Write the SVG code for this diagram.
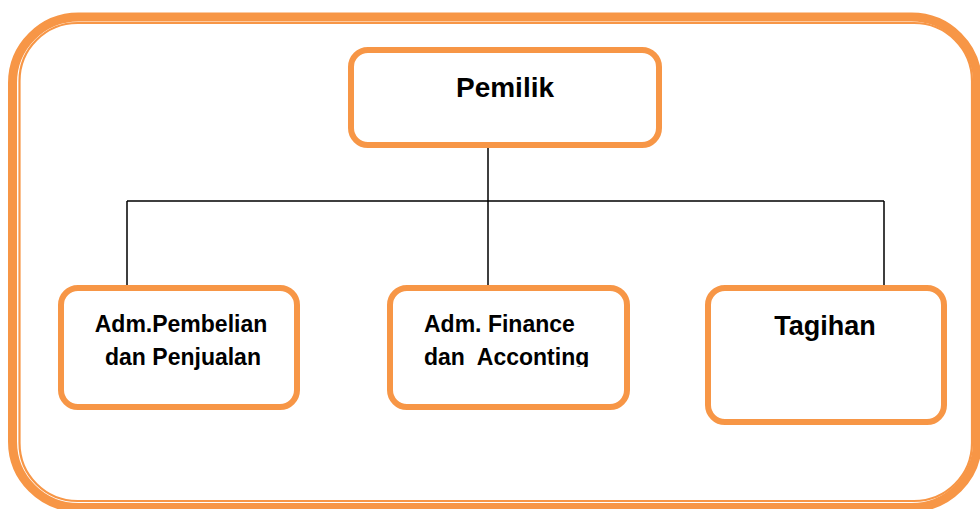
<svg xmlns="http://www.w3.org/2000/svg" width="980" height="509" viewBox="0 0 980 509">
<style>
.box{fill:#fff;stroke:#F79646;stroke-width:6}
.frame{fill:none;stroke:#F79646}
.lbl{font-family:"Liberation Sans",Arial,sans-serif;font-weight:bold;fill:#000}
.conn{stroke:#000;stroke-width:1.5;fill:none}
</style>
<defs>
<clipPath id="clipFin"><rect x="390" y="288" width="237" height="79"/></clipPath>
</defs>
<rect width="980" height="509" fill="#fff"/>
<g id="frame">
<rect class="frame" x="12.5" y="17" width="965" height="490.5" rx="66" ry="66" stroke-width="9"/>
<rect class="frame" x="19.5" y="23" width="952.5" height="478" rx="58" ry="58" stroke-width="2.2"/>
</g>
<g id="connectors">
<path class="conn" d="M488 148 V201 M127 201 H884 M127 201 V288 M488 201 V288 M884 201 V288"/>
</g>
<g id="pemilik">
<rect class="box" x="351" y="50" width="308" height="95" rx="17"/>
<text class="lbl" x="505" y="97" font-size="28" text-anchor="middle">Pemilik</text>
</g>
<g id="adm-pembelian">
<rect class="box" x="61" y="288" width="236" height="119" rx="17"/>
<text class="lbl" x="181" y="332" font-size="23" text-anchor="middle">Adm.Pembelian</text>
<text class="lbl" x="183" y="365" font-size="23" text-anchor="middle">dan Penjualan</text>
</g>
<g id="adm-finance">
<rect class="box" x="390" y="288" width="237" height="119" rx="17"/>
<g clip-path="url(#clipFin)">
<text class="lbl" x="424" y="332" font-size="23">Adm. Finance</text>
<text class="lbl" x="424" y="365" font-size="23" xml:space="preserve" style="white-space:pre">dan  Acconting</text>
</g>
</g>
<g id="tagihan">
<rect class="box" x="708" y="288" width="236" height="134" rx="17"/>
<text class="lbl" x="825" y="335" font-size="27" text-anchor="middle">Tagihan</text>
</g>
</svg>
